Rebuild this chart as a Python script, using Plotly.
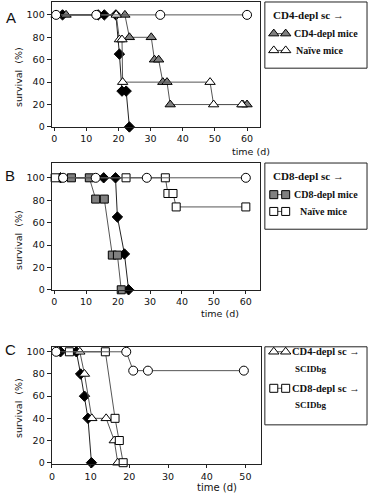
import plotly.graph_objects as go

W, H = 369, 500

# ---------------- data ----------------
# Panel A
a_circle_t = [0.6, 13.1, 33.0, 60.0]
a_circle_s = [100, 100, 100, 100]
a_diam_t = [2.6, 13.7, 15.6, 19.2, 20.3, 21.1, 22.4, 23.4]
a_diam_s = [100, 100, 100, 100, 65, 32, 32, 0]
a_cd4_t = [3.7, 22.0, 23.4, 30.2, 31.2, 32.5, 33.8, 35.1, 36.1, 58.7, 60.0]
a_cd4_s = [100, 100, 80, 80, 60, 60, 40, 40, 20, 20, 20]
a_naive_t = [0.6, 19.3, 20.3, 21.1, 21.3, 48.5, 49.6, 58.4]
a_naive_s = [100, 100, 78, 78, 40, 40, 20, 20]

# Panel B
b_circle_t = [2.8, 13.0, 29.0, 60.0]
b_circle_s = [100, 100, 100, 100]
b_diam_t = [2.0, 15.5, 19.2, 19.8, 22.0, 23.3]
b_diam_s = [100, 100, 100, 65, 32, 0]
b_cd8_t = [5.4, 11.0, 13.0, 15.7, 18.2, 19.8, 21.0]
b_cd8_s = [100, 100, 81, 81, 31, 31, 0]
b_naive_t = [0.3, 22.5, 34.8, 35.6, 37.2, 38.2, 60.0]
b_naive_s = [100, 100, 100, 86, 86, 74, 74]

# Panel C
c_circle_t = [1.1, 19.2, 21.0, 24.8, 49.6]
c_circle_s = [100, 100, 83, 83, 83]
c_diam_t = [2.2, 6.3, 7.4, 8.4, 9.3, 10.2]
c_diam_s = [100, 100, 80, 60, 40, 0]
c_cd4_t = [7.2, 8.4, 10.3, 14.0, 16.1, 17.0]
c_cd4_s = [100, 80, 40, 40, 20, 0]
c_cd8_t = [4.5, 13.8, 16.3, 17.4, 18.4]
c_cd8_s = [100, 100, 40, 20, 0]

y_ticks = [0, 20, 40, 60, 80, 100]
x_ticks_ab = [0, 10, 20, 30, 40, 50, 60]
x_ticks_c = [0, 10, 20, 30, 40, 50]

# ---------------- styles ----------------
GRAY = "#808080"
LINE = "#555555"
TICKFONT = dict(family="DejaVu Sans", size=9.5, color="#111")
SERIF = "Liberation Serif"


def px_x(p):
    return p / W


def px_y(p):
    return 1 - p / H


def mk(symbol, fill, size):
    return dict(symbol=symbol, color=fill, size=size,
                line=dict(color="black", width=1))


STY = {
    "circle": (mk("circle", "white", 9), LINE),
    "diamond": (mk("diamond", "black", 8), "#222"),
    "tri_gray": (mk("triangle-up", GRAY, 9), LINE),
    "tri_white": (mk("triangle-up", "white", 9), LINE),
    "sq_gray": (mk("square", GRAY, 8), LINE),
    "sq_white": (mk("square", "white", 8), LINE),
}

fig = go.Figure()


def add(t, s, style, xa, ya):
    marker, lc = STY[style]
    fig.add_trace(go.Scatter(x=t, y=s, mode="lines+markers", marker=marker,
                             line=dict(color=lc, width=1), xaxis=xa, yaxis=ya,
                             cliponaxis=False, showlegend=False, hoverinfo="skip"))


# Panel A
add(a_diam_t, a_diam_s, "diamond", "x", "y")
add(a_cd4_t, a_cd4_s, "tri_gray", "x", "y")
add(a_naive_t, a_naive_s, "tri_white", "x", "y")
add(a_circle_t, a_circle_s, "circle", "x", "y")
# Panel B
add(b_diam_t, b_diam_s, "diamond", "x2", "y2")
add(b_cd8_t, b_cd8_s, "sq_gray", "x2", "y2")
add(b_naive_t, b_naive_s, "sq_white", "x2", "y2")
add(b_circle_t, b_circle_s, "circle", "x2", "y2")
# Panel C
add(c_diam_t, c_diam_s, "diamond", "x3", "y3")
add(c_cd4_t, c_cd4_s, "tri_white", "x3", "y3")
add(c_cd8_t, c_cd8_s, "sq_white", "x3", "y3")
add(c_circle_t, c_circle_s, "circle", "x3", "y3")

# legend samples on an overlay pixel axis
LEG_SAMPLES = [
    ("tri_gray", 33), ("tri_white", 50),
    ("sq_gray", 196), ("sq_white", 213),
    ("tri_white", 355), ("sq_white", 392),
]
for style, yy in LEG_SAMPLES:
    add([273, 285], [yy, yy], style, "x4", "y4")


def xax(domain, rng, ticks):
    return dict(domain=domain, range=rng, tickvals=ticks, ticks="outside",
                ticklen=3, tickwidth=1, tickcolor="#222", showline=True,
                linecolor="#222", linewidth=1, mirror=True, showgrid=False,
                zeroline=False, tickfont=TICKFONT, fixedrange=True)


def yax(domain, rng, anchor):
    return dict(domain=domain, range=rng, tickvals=y_ticks, ticks="outside",
                ticklen=4, tickwidth=1, tickcolor="#222", showline=True,
                linecolor="#222", linewidth=1, mirror=True, showgrid=False,
                zeroline=False, tickfont=TICKFONT, anchor=anchor, fixedrange=True)


xa_ab = [px_x(49), px_x(259)]
xa_c = [px_x(49), px_x(260)]

fig.update_layout(
    width=W, height=H, margin=dict(l=0, r=0, t=0, b=0),
    paper_bgcolor="white", plot_bgcolor="rgba(0,0,0,0)",
    xaxis=dict(xax(xa_ab, [-0.8, 64.0], x_ticks_ab), anchor="y"),
    yaxis=yax([px_y(127.5), px_y(1)], [0, 111.5], "x"),
    xaxis2=dict(xax(xa_ab, [-0.8, 64.4], x_ticks_ab), anchor="y2"),
    yaxis2=yax([px_y(292.3), px_y(164)], [0, 113.2], "x2"),
    xaxis3=dict(xax(xa_c, [-0.1, 54.0], x_ticks_c), anchor="y3"),
    yaxis3=yax([px_y(469), px_y(350)], [-1.5, 104.5], "x3"),
    xaxis4=dict(domain=[0, 1], range=[0, W], visible=False, fixedrange=True, anchor="y4"),
    yaxis4=dict(domain=[0, 1], range=[H, 0], visible=False, fixedrange=True, anchor="x4"),
)

shapes = []
for (x0, y0, x1, y1) in [(264, 1, 367, 68), (264, 164, 367, 231), (264, 350, 367, 429)]:
    shapes.append(dict(type="rect", xref="x4", yref="y4", x0=x0, y0=y0, x1=x1, y1=y1,
                       line=dict(color="#222", width=1), fillcolor="rgba(0,0,0,0)"))
fig.update_layout(shapes=shapes)

ann = []


def text(x, y, s, size=10, family="DejaVu Sans", bold=False, xanchor="center", angle=0):
    ann.append(dict(x=x, y=y, xref="x4", yref="y4", text=s, showarrow=False,
                    xanchor=xanchor, yanchor="middle", textangle=angle,
                    font=dict(family=family, size=size, color="#111",
                              weight="bold" if bold else "normal")))


# panel letters
text(8, 17, "A", size=15, family="Liberation Sans")
text(7, 177, "B", size=15, family="Liberation Sans")
text(8, 353, "C", size=15, family="Liberation Sans")
# axis titles
for yy in (77, 242, 412):
    text(15, yy, "survival  (%)", size=9.5, angle=-90)
text(250, 152, "time (d)", size=9.5)
text(219, 316, "time (d)", size=9.5)
text(216, 492, "time (d)", size=10)
# legend texts
text(270, 14, "CD4-depl sc →", size=11, family=SERIF, bold=True, xanchor="left")
text(291, 33, "CD4-depl mice", size=10, family=SERIF, bold=True, xanchor="left")
text(293, 50, "Naïve mice", size=10, family=SERIF, bold=True, xanchor="left")
text(270, 177, "CD8-depl sc →", size=11, family=SERIF, bold=True, xanchor="left")
text(291, 196, "CD8-depl mice", size=10, family=SERIF, bold=True, xanchor="left")
text(297, 213, "Naïve mice", size=10, family=SERIF, bold=True, xanchor="left")
text(289, 355, "CD4-depl sc →", size=10.5, family=SERIF, bold=True, xanchor="left")
text(311, 372, "SCIDbg", size=9, family=SERIF, bold=True)
text(289, 392, "CD8-depl sc →", size=10.5, family=SERIF, bold=True, xanchor="left")
text(311, 409, "SCIDbg", size=9, family=SERIF, bold=True)
fig.update_layout(annotations=ann)

fig.write_html("out.html", config={"displayModeBar": False},
               post_script="document.body.style.margin='0';document.body.style.overflow='hidden';")
